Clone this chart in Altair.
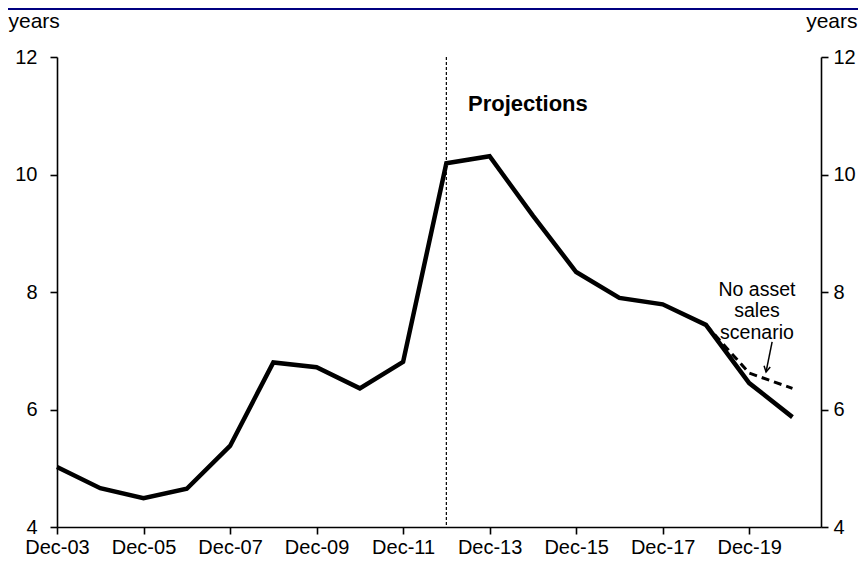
import altair as alt
import pandas as pd

# ---- data ----
years = list(range(2003, 2021))
duration = [5.02, 4.66, 4.49, 4.65, 5.38, 6.80, 6.72, 6.36, 6.81, 10.19,
            10.31, 9.30, 8.34, 7.90, 7.79, 7.44, 6.45, 5.87]
scen_years = [2018, 2019, 2020]
scen_values = [7.44, 6.62, 6.36]
x_ticks = [2003, 2005, 2007, 2009, 2011, 2013, 2015, 2017, 2019]
y_ticks = [4, 6, 8, 10, 12]
proj_year = [2012]
proj_label = "Projections"
annotation_text = ["No asset", "sales", "scenario"]
y_unit = "years"

FONT = "Liberation Sans"
W, H = 764, 470

df = pd.DataFrame({"year": years, "value": duration})
sdf = pd.DataFrame({"year": scen_years, "value": scen_values})

xscale = alt.Scale(domain=[2003, 2020.66], nice=False, zero=False)
yscale = alt.Scale(domain=[4, 12], nice=False, zero=False)

xaxis = alt.Axis(values=x_ticks,
                 labelExpr="'Dec-' + slice('0' + (datum.value % 100), -2)",
                 title=None, tickSize=7, labelPadding=3, labelFontSize=20,
                 labelOverlap=False, labelFlush=False, labelBound=False)
left_axis = alt.Axis(values=y_ticks, orient="left", title=y_unit, titleAngle=0,
                     titleAlign="left", titleBaseline="alphabetic",
                     titleX=-49, titleY=-30, tickSize=7, labelPadding=13,
                     labelFontSize=20, labelFlush=False)
right_axis = alt.Axis(values=y_ticks, orient="right", title=y_unit, titleAngle=0,
                      titleAlign="right", titleBaseline="alphabetic",
                      titleX=36, titleY=-30, tickSize=7, labelPadding=5,
                      labelFontSize=20, labelFlush=False)

X = alt.X("year:Q", scale=xscale, axis=xaxis)

main = alt.Chart(df).mark_line(color="black", strokeWidth=4.5).encode(
    x=X, y=alt.Y("value:Q", scale=yscale, axis=left_axis))

right = alt.Chart(df).mark_line(opacity=0).encode(
    x=X, y=alt.Y("value:Q", scale=yscale, axis=right_axis))

scen = alt.Chart(sdf).mark_line(color="black", strokeWidth=3, strokeDash=[8, 5]).encode(
    x=X, y=alt.Y("value:Q", scale=yscale, axis=None))

vline = alt.Chart(pd.DataFrame({"year": proj_year})).mark_rule(
    color="black", strokeWidth=1.2, strokeDash=[3, 2]).encode(x=X)

proj = alt.Chart(pd.DataFrame({"year": [2012.5], "value": [11.085], "t": [proj_label]})).mark_text(
    font=FONT, fontSize=22, fontWeight="bold", align="left", baseline="alphabetic",
    color="black").encode(x=X, y=alt.Y("value:Q", scale=yscale, axis=None), text="t:N")

annot = alt.Chart(pd.DataFrame({"year": [2019.18], "value": [8.04],
                                "t": ["\n".join(annotation_text)]})).mark_text(
    font=FONT, fontSize=19.5, align="center", baseline="middle", lineBreak="\n",
    lineHeight=21.5, color="black").encode(
    x=X, y=alt.Y("value:Q", scale=yscale, axis=None), text="t:N")

arrow = alt.Chart(pd.DataFrame({"year": [2019.53], "year2": [2019.39],
                                "value": [7.15], "value2": [6.64]})).mark_rule(
    color="black", strokeWidth=1.5).encode(
    x=X, x2="year2:Q", y=alt.Y("value:Q", scale=yscale, axis=None), y2="value2:Q")

head = alt.Chart(pd.DataFrame({"year": [2019.39], "value": [6.64]})).mark_point(
    shape="M-0.55,-1L0,0L0.55,-1", filled=False, color="black", strokeWidth=1.5,
    size=130, angle=11, opacity=1).encode(
    x=X, y=alt.Y("value:Q", scale=yscale, axis=None))

topline = alt.Chart(df).mark_rule(color="#000080", strokeWidth=2).encode(
    x=alt.value(-49), x2=alt.value(W + 37), y=alt.value(-48))

chart = alt.layer(main, right, scen, vline, proj, annot, arrow, head, topline).resolve_scale(
    y="independent").properties(
    width=W, height=H,
    autosize=alt.AutoSizeParams(type="none"),
    padding={"left": 49, "top": 49, "right": 37, "bottom": 31},
).configure_view(stroke=None).configure_axis(
    grid=False, domainColor="black", domainWidth=1.6, tickColor="black", tickWidth=1.6,
    labelColor="black", titleColor="black", labelFont=FONT, titleFont=FONT,
    titleFontSize=21, titleFontWeight="normal")

chart.save("out.html", embed_options={"renderer": "svg", "actions": False})
